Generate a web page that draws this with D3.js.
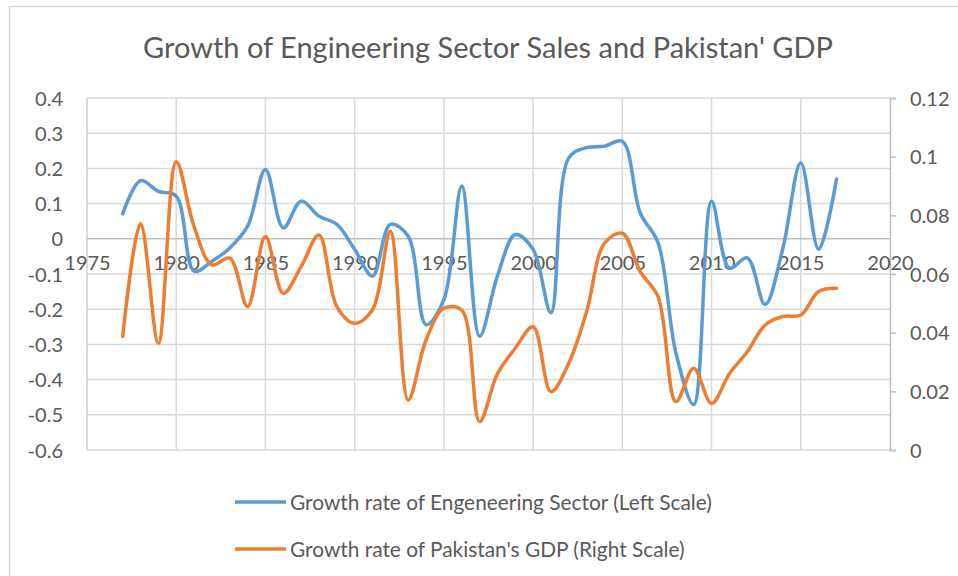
<!DOCTYPE html>
<html>
<head>
<meta charset="utf-8">
<script src="https://cdn.jsdelivr.net/npm/d3@7"></script>
<style>
  body { margin: 0; background: #fff; }
  text { font-family: Lato, "Open Sans", sans-serif; fill: #595959; }
</style>
</head>
<body>
<div id="chart"></div>
<script>
// data
var years = d3.range(1977, 2018);
var engGrowth = [0.071, 0.165, 0.135, 0.121, -0.092, -0.064, -0.026, 0.036, 0.197, 0.031,
  0.107, 0.064, 0.041, -0.03, -0.106, 0.041, 0.007, -0.244, -0.173, 0.150,
  -0.277, -0.106, 0.012, -0.03, -0.21, 0.23, 0.259, 0.263, 0.277, 0.074,
  -0.011, -0.324, -0.471, 0.107, -0.083, -0.054, -0.187, -0.026, 0.216, -0.03, 0.169];
var gdpGrowth = [0.0387, 0.0771, 0.0364, 0.0983, 0.0762, 0.0631, 0.0654, 0.0489, 0.0728, 0.0534,
  0.0625, 0.0733, 0.0489, 0.0432, 0.0478, 0.0745, 0.017, 0.0375, 0.0483, 0.0477,
  0.0097, 0.026, 0.0347, 0.042, 0.0199, 0.0296, 0.0472, 0.0705, 0.0739, 0.0608,
  0.0523, 0.0165, 0.0279, 0.0159, 0.026, 0.0335, 0.0426, 0.0455, 0.046, 0.054, 0.0551];
var xTicks = d3.range(1975, 2021, 5);
var leftTicks = [0.4, 0.3, 0.2, 0.1, 0, -0.1, -0.2, -0.3, -0.4, -0.5, -0.6];
var rightTicks = [0, 0.02, 0.04, 0.06, 0.08, 0.1, 0.12];
var seriesNames = ["Growth rate of Engeneering Sector (Left Scale)", "Growth rate of Pakistan's GDP (Right Scale)"];
var colors = ["#5B9BD5", "#ED7D31"];

var svgWidth = 958;
var svgHeight = 576;
var plot = { left: 87, right: 890, top: 98, bottom: 450 };

// plain hyphen for negatives, like Excel
var fmt = d3.formatLocale({ decimal: ".", thousands: ",", grouping: [3], currency: ["", ""], minus: "-" }).format("~g");

var svg = d3.select("#chart").append("svg")
  .attr("width", svgWidth)
  .attr("height", svgHeight);

// chart border
svg.append("rect")
  .attr("x", 9.5).attr("y", 6.5)
  .attr("width", 990).attr("height", 600)
  .attr("fill", "none").attr("stroke", "#d9d9d9").attr("stroke-width", 1.5);

var x = d3.scaleLinear().domain([1975, 2020]).range([plot.left, plot.right]);
var yLeft = d3.scaleLinear().domain([-0.6, 0.4]).range([plot.bottom, plot.top]);
var yRight = d3.scaleLinear().domain([0, 0.12]).range([plot.bottom, plot.top]);

// gridlines
svg.append("g").selectAll("line")
  .data(leftTicks.filter(d => d !== 0))
  .enter().append("line")
  .attr("x1", plot.left).attr("x2", plot.right)
  .attr("y1", d => yLeft(d)).attr("y2", d => yLeft(d))
  .attr("stroke", "#d9d9d9").attr("stroke-width", 1.5);

svg.append("g").selectAll("line")
  .data(xTicks.filter(d => d !== 2020))
  .enter().append("line")
  .attr("x1", d => x(d)).attr("x2", d => x(d))
  .attr("y1", plot.top).attr("y2", plot.bottom)
  .attr("stroke", d => d === 1975 ? "#cfcfcf" : "#d9d9d9").attr("stroke-width", 1.5);

// x axis crossing at zero
svg.append("line")
  .attr("x1", plot.left).attr("x2", plot.right)
  .attr("y1", yLeft(0)).attr("y2", yLeft(0))
  .attr("stroke", "#bfbfbf").attr("stroke-width", 1.5);

// right axis with outward ticks
var rightAxis = d3.axisRight(yRight).tickValues(rightTicks).tickSize(6).tickFormat(fmt);
var rightG = svg.append("g")
  .attr("transform", `translate(${plot.right}, 0)`)
  .call(rightAxis);
rightG.select(".domain").attr("stroke", "#bfbfbf").attr("stroke-width", 1.5);
rightG.selectAll(".tick line").attr("stroke", "#bfbfbf").attr("stroke-width", 1.5);
rightG.selectAll(".tick text")
  .attr("x", 20)
  .attr("dy", "0.35em")
  .style("font-size", "20px")
  .style("font-family", "Lato, sans-serif")
  .attr("fill", "#595959");

// left axis labels
var leftAxis = d3.axisLeft(yLeft).tickValues(leftTicks).tickSize(0).tickFormat(fmt);
var leftG = svg.append("g")
  .attr("transform", `translate(${plot.left}, 0)`)
  .call(leftAxis);
leftG.select(".domain").remove();
leftG.selectAll(".tick text")
  .attr("x", -24)
  .attr("dy", "0.35em")
  .style("font-size", "20px")
  .style("font-family", "Lato, sans-serif")
  .attr("fill", "#595959");

// x labels sit just under the zero line
var bottomAxis = d3.axisBottom(x).tickValues(xTicks).tickSize(0).tickFormat(d3.format("d"));
var xG = svg.append("g")
  .attr("transform", `translate(0, ${yLeft(0)})`)
  .call(bottomAxis);
xG.select(".domain").remove();
xG.selectAll(".tick text")
  .attr("y", 31)
  .attr("dy", 0)
  .style("font-size", "20px")
  .style("font-family", "Lato, sans-serif")
  .attr("fill", "#595959");

// smoothed lines
var engLine = d3.line()
  .x((d, i) => x(years[i]))
  .y(d => yLeft(d))
  .curve(d3.curveCatmullRom.alpha(0.5));
var gdpLine = d3.line()
  .x((d, i) => x(years[i]))
  .y(d => yRight(d))
  .curve(d3.curveCatmullRom.alpha(0.5));

svg.append("path")
  .datum(engGrowth)
  .attr("d", engLine)
  .attr("fill", "none")
  .attr("stroke", colors[0])
  .attr("stroke-width", 3.5)
  .attr("stroke-linejoin", "round")
  .attr("stroke-linecap", "round");

svg.append("path")
  .datum(gdpGrowth)
  .attr("d", gdpLine)
  .attr("fill", "none")
  .attr("stroke", colors[1])
  .attr("stroke-width", 3.5)
  .attr("stroke-linejoin", "round")
  .attr("stroke-linecap", "round");

// fit a text element to a target width
function fitWidth(sel, target) {
  var w = sel.node().getComputedTextLength();
  var size = parseFloat(sel.style("font-size"));
  sel.style("font-size", (size * target / w).toFixed(2) + "px");
}

// title
var title = svg.append("text")
  .attr("x", 488)
  .attr("y", 58)
  .attr("text-anchor", "middle")
  .style("font-size", "26px")
  .text("Growth of Engineering Sector Sales and Pakistan' GDP");
fitWidth(title, 690);

// legend
var legend = svg.append("g");
var rows = [502, 549];
seriesNames.forEach(function(name, i) {
  legend.append("line")
    .attr("x1", 235).attr("x2", 286)
    .attr("y1", rows[i]).attr("y2", rows[i])
    .attr("stroke", colors[i]).attr("stroke-width", 3.5);
  var t = legend.append("text")
    .attr("x", 290)
    .attr("y", rows[i] + 8)
    .style("font-size", "20px")
    .text(name);
  if (i === 0) fitWidth(t, 422);
  else t.style("font-size", legend.select("text").style("font-size"));
});
</script>
</body>
</html>
